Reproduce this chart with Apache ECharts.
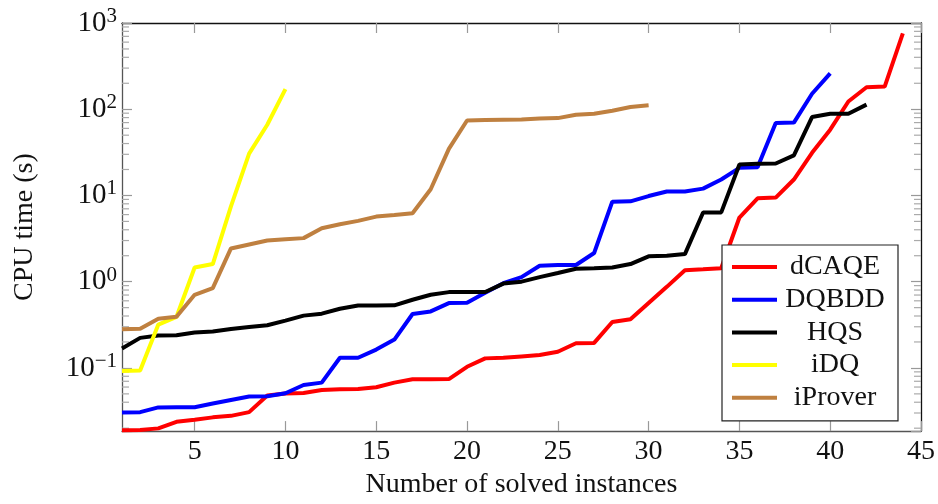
<!DOCTYPE html>
<html>
<head>
<meta charset="utf-8">
<script src="https://cdn.jsdelivr.net/npm/echarts@6/dist/echarts.min.js"></script>
<style>
html,body{margin:0;padding:0;background:#fff;}
#c{width:938px;height:504px;}
</style>
</head>
<body>
<div id="c"></div>
<script>
// ---- data ----
const seriesNames = ['dCAQE', 'DQBDD', 'HQS', 'iDQ', 'iProver'];
const dCAQE = [0.0189, 0.0191, 0.0199, 0.0237, 0.0250, 0.0267, 0.0278, 0.0307, 0.0478, 0.0504,
  0.0512, 0.0554, 0.0565, 0.0569, 0.0596, 0.0675, 0.0737, 0.0737, 0.0743, 0.103,
  0.129, 0.131, 0.136, 0.141, 0.154, 0.193, 0.195, 0.341, 0.366, 0.565,
  0.871, 1.36, 1.39, 1.43, 5.55, 9.26, 9.44, 15.3, 31.2, 57.9,
  123, 180, 183, 756];
const DQBDD = [0.0304, 0.0307, 0.0348, 0.0350, 0.0350, 0.0386, 0.0425, 0.0466, 0.0469, 0.0508,
  0.0634, 0.0675, 0.131, 0.131, 0.163, 0.213, 0.422, 0.452, 0.565, 0.569,
  0.743, 0.961, 1.13, 1.53, 1.56, 1.56, 2.15, 8.47, 8.54, 9.84,
  11.1, 11.1, 12.0, 15.3, 20.9, 21.2, 69.2, 70.0, 151, 261];
const HQS = [0.168, 0.223, 0.237, 0.239, 0.257, 0.264, 0.283, 0.299, 0.312, 0.353,
  0.404, 0.426, 0.486, 0.530, 0.530, 0.532, 0.617, 0.705, 0.757, 0.757,
  0.760, 0.951, 1.00, 1.13, 1.26, 1.41, 1.43, 1.46, 1.60, 1.97,
  2.00, 2.09, 6.34, 6.36, 22.9, 23.3, 23.5, 29.2, 81.1, 88.5,
  88.7, 113];
const iDQ = [0.0918, 0.0935, 0.318, 0.390, 1.46, 1.60, 7.48, 30.6, 66.1, 171];
const iProver = [0.280, 0.285, 0.372, 0.393, 0.705, 0.841, 2.43, 2.70, 3.00, 3.10,
  3.20, 4.17, 4.64, 5.07, 5.69, 5.94, 6.22, 11.8, 34.7, 74.1,
  74.9, 75.6, 76.0, 78.1, 78.9, 86.1, 88.5, 95.9, 106, 111];
const seriesValues = [dCAQE, DQBDD, HQS, iDQ, iProver];
const seriesColors = ['#ff0000', '#0000ff', '#000000', '#ffff00', '#bf8040'];
const xTickValues = [5, 10, 15, 20, 25, 30, 35, 40, 45];
const yMinorValues = [];
[0.01, 0.1, 1, 10, 100].forEach(function (d) {
  for (let k = 2; k <= 9; k++) yMinorValues.push(+(d * k).toPrecision(3));
});
const xTitle = 'Number of solved instances';
const yTitle = 'CPU time (s)';

// ---- chart ----
const FONT = '"Liberation Serif", "Times New Roman", serif';
const FS = 28;
const Y_MIN = 0.0185, Y_MAX = 1000, X_MIN = 1, X_MAX = 45;

function yFmt(v) {
  const e = Math.log10(v);
  const r = Math.round(e);
  if (Math.abs(e - r) > 1e-6) return '';
  const s = r < 0 ? '\u2212' + (-r) : String(r);
  return '{b|10}{s|' + s + '}';
}

const chart = echarts.init(document.getElementById('c'), null, {renderer: 'canvas'});

function yAxisCfg(pos, showLabel) {
  const a = {
    type: 'log', logBase: 10, min: Y_MIN, max: Y_MAX, position: pos,
    axisLine: {show: true, lineStyle: {color: pos === 'left' ? '#555' : '#111', width: 1.3}},
    splitLine: {show: false},
    axisTick: {show: true, inside: true, length: 10, lineStyle: {color: '#999', width: 1.2}},
    axisLabel: {show: showLabel, formatter: yFmt, margin: 5, fontFamily: FONT,
      rich: {b: {fontSize: 29, fontFamily: FONT, color: '#111'},
             s: {fontSize: 21, fontFamily: FONT, color: '#111', padding: [0, 0, 13, 0]}}}
  };
  if (showLabel) {
    a.name = yTitle; a.nameLocation = 'middle'; a.nameGap = 83;
    a.nameTextStyle = {fontFamily: FONT, fontSize: FS, color: '#111'};
  }
  return a;
}

const option = {
  animation: false,
  backgroundColor: '#fff',
  grid: {left: 122, right: 16, top: 23, bottom: 71},
  xAxis: [
    {type: 'value', min: X_MIN, max: X_MAX, position: 'bottom',
     name: xTitle, nameLocation: 'middle', nameGap: 38,
     nameTextStyle: {fontFamily: FONT, fontSize: FS, color: '#111'},
     axisLine: {show: true, lineStyle: {color: '#555', width: 1.3}},
     splitLine: {show: false},
     axisTick: {show: true, inside: true, length: 10, customValues: xTickValues, lineStyle: {color: '#999', width: 1.2}},
     axisLabel: {customValues: xTickValues, margin: 7, fontFamily: FONT, fontSize: FS, color: '#111'}},
    {type: 'value', min: X_MIN, max: X_MAX, position: 'top',
     axisLine: {show: true, lineStyle: {color: '#111', width: 1.3}},
     splitLine: {show: false},
     axisTick: {show: true, inside: true, length: 10, customValues: xTickValues, lineStyle: {color: '#999', width: 1.2}},
     axisLabel: {show: false}}
  ],
  yAxis: [
    yAxisCfg('left', true),
    yAxisCfg('right', false)
  ],
  legend: {
    orient: 'vertical', right: 40, top: 245,
    backgroundColor: '#fff', borderColor: '#222', borderWidth: 1.2, borderRadius: 0,
    padding: [7, 10, 8, 10], itemGap: 2.7,
    icon: 'rect', itemWidth: 45, itemHeight: 4,
    data: seriesNames,
    formatter: function (n) { return '{c|' + n + '}'; },
    textStyle: {fontFamily: FONT, fontSize: FS, color: '#111', lineHeight: 30,
      rich: {c: {width: 106, align: 'center', fontFamily: FONT, fontSize: FS, color: '#111', lineHeight: 30}}}
  },
  series: seriesNames.map(function (name, i) {
    return {
      name: name, type: 'line', xAxisIndex: 0, yAxisIndex: 0,
      showSymbol: false, symbol: 'none', clip: true,
      color: seriesColors[i],
      lineStyle: {width: 4, color: seriesColors[i]},
      data: seriesValues[i].map(function (v, k) { return [k + 1, v]; })
    };
  }).concat([{
    name: 'minorTicks', type: 'custom', xAxisIndex: 0, yAxisIndex: 0,
    silent: true, clip: false, z: 1,
    data: yMinorValues.map(function (v) { return [X_MIN, v]; }),
    renderItem: function (params, api) {
      const v = api.value(1);
      const p = api.coord([X_MIN, v]);
      const q = api.coord([X_MAX, v]);
      const st = {stroke: '#aaa', lineWidth: 1.2};
      return {type: 'group', children: [
        {type: 'line', shape: {x1: p[0], y1: p[1], x2: p[0] + 7, y2: p[1]}, style: st},
        {type: 'line', shape: {x1: q[0] - 7, y1: q[1], x2: q[0], y2: q[1]}, style: st}
      ]};
    }
  }])
};
chart.setOption(option);
</script>
</body>
</html>
